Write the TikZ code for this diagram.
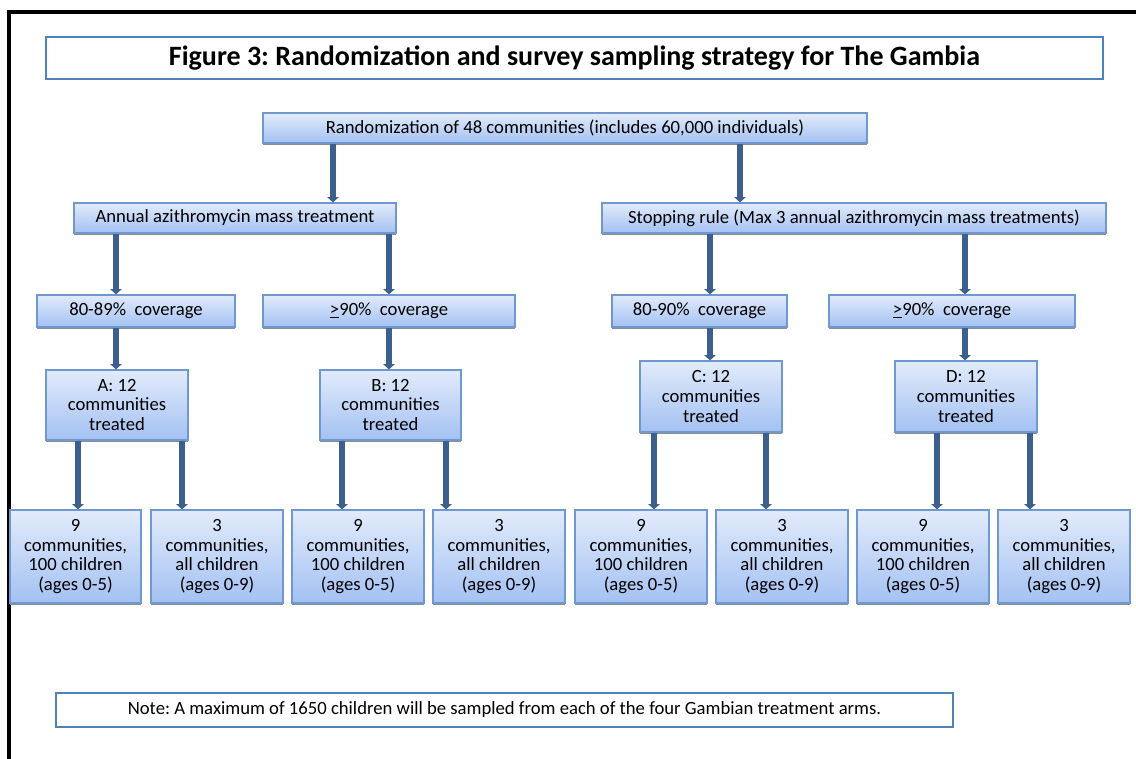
\documentclass[tikz,border=0pt]{standalone}
\usepackage{fontspec}
\setmainfont{Carlito}
\frenchspacing
\usetikzlibrary{arrows.meta,shadows}
\definecolor{boxtop}{HTML}{E2EBFB}
\definecolor{boxbot}{HTML}{A3C1F2}
\definecolor{boxline}{HTML}{6F97D0}
\definecolor{arrowblue}{HTML}{3D5F8E}
\definecolor{framblue}{HTML}{4F81BD}
\tikzset{
  % place a node by its pixel corners (x1,y1) and (x2,y2)
  span/.style n args={4}{minimum width={(#3-#1)*0.75pt}, minimum height={(#4-#2)*0.75pt},
    at={({(#1+#3)/2},{(#2+#4)/2})}},
  flowbox/.style={draw=boxline, line width=0.9pt, top color=boxtop, bottom color=boxbot,
    inner sep=0pt, align=center, font=\fontsize{14}{14.8}\selectfont,
    drop shadow={shadow xshift=0pt, shadow yshift=-1.6pt, fill=black!45, opacity=1}},
  framebox/.style={draw=framblue, line width=2.2pt, inner sep=0pt, align=center},
  flowarrow/.style={draw=arrowblue, line width=4.4pt,
    -{Triangle[width=8.5pt,length=4pt]}},
}
\begin{document}
\begin{tikzpicture}[x=0.75pt,y=-0.75pt]
\useasboundingbox (0,0) rectangle (1136,758);
\clip (0,0) rectangle (1136,758);
% outer frame
\draw[line width=2.3pt,black] (9,770) -- (9,12) -- (1150,12);

% title and note
\node[framebox, span={46}{37}{1103}{79}, font=\fontsize{21}{24}\selectfont\bfseries] (title)
  {Figure 3: Randomization and survey sampling strategy for The Gambia};
\node[framebox, line width=2pt, span={56}{693}{953}{727}, font=\fontsize{14}{16}\selectfont] (note)
  {Note: A maximum of 1650 children will be sampled from each of the four Gambian treatment arms.};

% level 1
\node[flowbox, span={263}{113}{867}{143}] (rand)
  {Randomization of 48 communities (includes 60,000 individuals)};
% level 2
\node[flowbox, span={74}{203}{396}{233}] (annual) {Annual azithromycin mass treatment};
\node[flowbox, span={602}{203}{1106}{233}] (stop)
  {Stopping rule (Max 3 annual azithromycin mass treatments)};
% level 3
\node[flowbox, span={37}{295}{235}{327}] (covA) {80-89\%\ \ coverage};
\node[flowbox, span={263}{295}{515}{327}] (covB) {\underline{>}90\%\ \ coverage};
\node[flowbox, span={612}{295}{787}{327}] (covC) {80-90\%\ \ coverage};
\node[flowbox, span={829}{295}{1075}{327}] (covD) {\underline{>}90\%\ \ coverage};
% level 4
\node[flowbox, span={46}{370}{188}{440}] (armA) {A: 12\\communities\\treated};
\node[flowbox, span={320}{370}{461}{440}] (armB) {B: 12\\communities\\treated};
\node[flowbox, span={640}{361}{782}{432}] (armC) {C: 12\\communities\\treated};
\node[flowbox, span={895}{361}{1037}{432}] (armD) {D: 12\\communities\\treated};
% level 5
\node[flowbox, span={10}{510}{141}{603}]  (a9) {9\\communities,\\100 children\\(ages 0-5)};
\node[flowbox, span={151}{510}{283}{603}] (a3) {3\\communities,\\all children\\(ages 0-9)};
\node[flowbox, span={292}{510}{424}{603}] (b9) {9\\communities,\\100 children\\(ages 0-5)};
\node[flowbox, span={433}{510}{565}{603}] (b3) {3\\communities,\\all children\\(ages 0-9)};
\node[flowbox, span={575}{510}{707}{603}] (c9) {9\\communities,\\100 children\\(ages 0-5)};
\node[flowbox, span={716}{510}{848}{603}] (c3) {3\\communities,\\all children\\(ages 0-9)};
\node[flowbox, span={857}{510}{989}{603}] (d9) {9\\communities,\\100 children\\(ages 0-5)};
\node[flowbox, span={998}{510}{1130}{603}] (d3) {3\\communities,\\all children\\(ages 0-9)};

% connectors
\draw[flowarrow] (rand.south -| 333,0) -- (annual.north -| 333,0);
\draw[flowarrow] (rand.south -| 740,0) -- (stop.north -| 740,0);
\draw[flowarrow] (annual.south -| 116,0) -- (covA.north -| 116,0);
\draw[flowarrow] (annual.south -| 389,0) -- (covB.north -| 389,0);
\draw[flowarrow] (stop.south -| 710,0) -- (covC.north -| 710,0);
\draw[flowarrow] (stop.south -| 965,0) -- (covD.north -| 965,0);
\draw[flowarrow] (covA.south -| 116,0) -- (armA.north -| 116,0);
\draw[flowarrow] (covB.south -| 389,0) -- (armB.north -| 389,0);
\draw[flowarrow] (covC.south -| 710,0) -- (armC.north -| 710,0);
\draw[flowarrow] (covD.south -| 965,0) -- (armD.north -| 965,0);
\draw[flowarrow] (armA.south -| 78,0) -- (a9.north -| 78,0);
\draw[flowarrow] (armA.south -| 182,0) -- (a3.north -| 182,0);
\draw[flowarrow] (armB.south -| 342,0) -- (b9.north -| 342,0);
\draw[flowarrow] (armB.south -| 446,0) -- (b3.north -| 446,0);
\draw[flowarrow] (armC.south -| 654,0) -- (c9.north -| 654,0);
\draw[flowarrow] (armC.south -| 766,0) -- (c3.north -| 766,0);
\draw[flowarrow] (armD.south -| 937,0) -- (d9.north -| 937,0);
\draw[flowarrow] (armD.south -| 1030,0) -- (d3.north -| 1030,0);
\end{tikzpicture}
\end{document}
